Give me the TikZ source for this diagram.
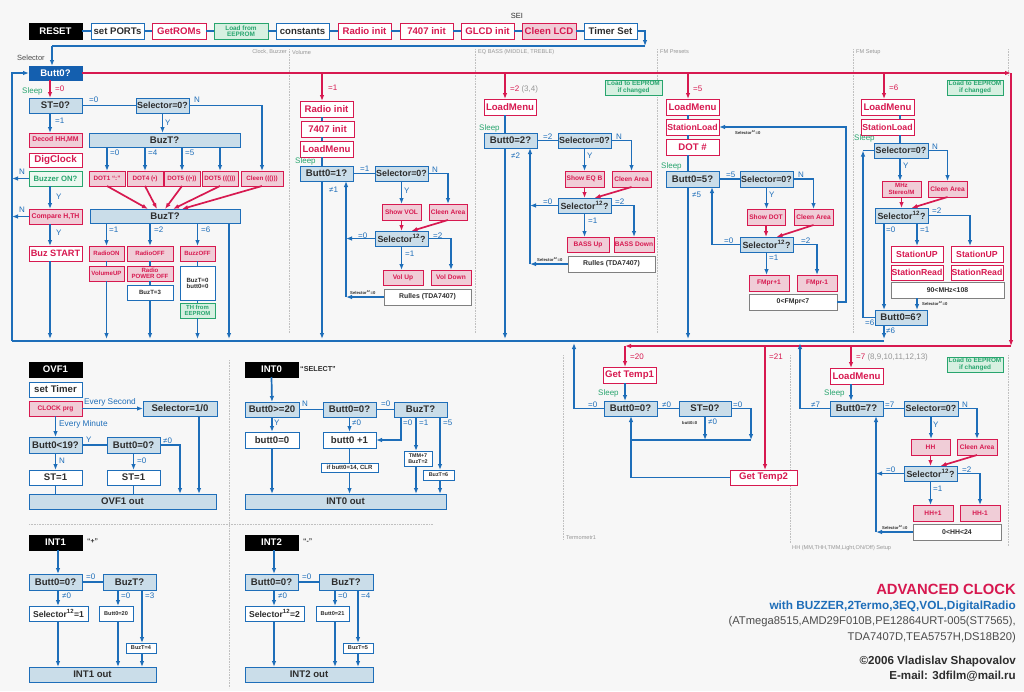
\documentclass[tikz,border=0pt]{standalone}
\usepackage{fontspec}
\setmainfont{Liberation Sans}
\usetikzlibrary{arrows.meta,calc}
\definecolor{cb}{RGB}{30,110,185}
\definecolor{cr}{RGB}{215,25,80}
\definecolor{cpk}{RGB}{240,205,215}
\definecolor{clb}{RGB}{202,221,233}
\definecolor{cg}{RGB}{40,165,110}
\definecolor{cpg}{RGB}{215,240,225}
\definecolor{cdb}{RGB}{20,95,175}
\definecolor{cgy}{RGB}{150,150,150}
\definecolor{cbg}{RGB}{247,247,247}
\definecolor{ctx}{RGB}{45,45,45}
\newcommand\fz[1]{\fontsize{#1}{#1}\selectfont}
\newcounter{lbc}
\newcommand\mybox[7]{\pgfmathsetmacro\bxw{#5-#3}\pgfmathsetmacro\bxh{#6-#4}\node[#2,minimum width=\bxw pt,minimum height=\bxh pt] (#1) at ({(#3+#5)/2},{(#4+#6)/2}) {#7};}
\newcommand\mylab[4]{\stepcounter{lbc}\node[#1,anchor=west] (L\arabic{lbc}) at (#2,#3) {#4};}
\tikzset{
 bb/.style={draw, line width=1pt, inner sep=0pt, outer sep=0pt, align=center, font=\bfseries\fz{9.6}},
 blk/.style={bb, fill=black, draw=black, text=white},
 wbx/.style={bb, fill=white, draw=cb, text=ctx},
 wrx/.style={bb, fill=white, draw=cr, text=cr},
 pkx/.style={bb, fill=cpk, draw=cr, text=cr, font=\bfseries\fz{6.6}},
 lbx/.style={bb, fill=clb, draw=cb, text=ctx},
 grx/.style={bb, fill=cpg, draw=cg, text=cg, font=\bfseries\fz{6.4}},
 dbx/.style={bb, fill=cdb, draw=cdb, text=white},
 wgx/.style={bb, fill=white, draw=gray, text=ctx, font=\bfseries\fz{6.9}},
 sel/.style={font=\bfseries\fz{8.9}},
 stn/.style={font=\bfseries\fz{8.7}},
 smb/.style={font=\bfseries\fz{5.6}},
 bl/.style={draw=cb, line width=1.7pt},
 rd/.style={draw=cr, line width=1.7pt},
 ar/.style={-{Latex[length=6pt,width=4.6pt]}},
 tl/.style={inner sep=0pt, font=\fz{8}, text=cb},
 rl/.style={tl, text=cr},
 sl/.style={tl, text=cg},
 gl/.style={inner sep=0pt, font=\fz{5.6}, text=cgy},
 xl/.style={inner sep=0pt, font=\bfseries\fz{4.2}, text=ctx},
 sepl/.style={draw=cgy!60, line width=0.6pt, densely dotted},
 ttl/.style={inner sep=0pt, anchor=east}
}
\begin{document}
\begin{tikzpicture}[x=1pt,y=-1pt]
\fill[cbg] (0,0) rectangle (1024,691);
\useasboundingbox (0,0) rectangle (1024,691);
% separators
\draw[sepl] (289,49) -- (289,333);
\draw[sepl] (475,49) -- (475,333);
\draw[sepl] (657,49) -- (657,333);
\draw[sepl] (853,49) -- (853,333);
\draw[sepl] (1008,49) -- (1008,75);
\draw[sepl] (229,360) -- (229,688);
\draw[sepl] (29,524) -- (433,524);
\draw[sepl] (563,355) -- (563,540);
\draw[sepl] (790,355) -- (790,543);
\draw[sepl] (1008,355) -- (1008,546);
\node[gl,anchor=east] (g1) at (287,52) {Clock, Buzzer};
\node[gl,anchor=west] (g2) at (292,52) {Volume};
\node[gl,anchor=west] (g3) at (478,52) {EQ BASS (MIDDLE, TREBLE)};
\node[gl,anchor=west] (g4) at (660,52) {FM Presets};
\node[gl,anchor=west] (g5) at (856,52) {FM Setup};
\node[gl,anchor=west] (g6) at (566,538) {Termometr1};
\node[gl,anchor=west] (g7) at (792,548) {HH (MM,THH,TMM,Light,ON/Off) Setup};

% top row
\mybox{rst}{blk}{29}{23}{82}{39}{RESET}
\mybox{spo}{wbx}{91}{23}{144}{39}{set PORTs}
\mybox{grom}{wrx}{152}{23}{206}{39}{GetROMs}
\mybox{lfe}{grx}{214}{23}{268}{39}{Load from\\EEPROM}
\mybox{cst}{wbx}{276}{23}{329}{39}{constants}
\mybox{rin}{wrx}{338}{23}{391}{39}{Radio init}
\mybox{i74}{wrx}{400}{23}{453}{39}{7407 init}
\mybox{glcd}{wrx}{461}{23}{514}{39}{GLCD init}
\mybox{clcd}{pkx,font=\bfseries\fz{9.6}}{522}{23}{576}{39}{Cleen LCD}
\mybox{tms}{wbx}{584}{23}{637}{39}{Timer Set}
\node[inner sep=0pt,font=\fz{7.5},text=ctx] (sei) at (517,16) {SEI};
\foreach \a/\b in {rst/spo,spo/grom,grom/lfe,lfe/cst,cst/rin,rin/i74,i74/glcd,glcd/clcd,clcd/tms}
  \draw[bl] (\a.east) -- (\b.west);
\coordinate (bus0R) at (645,46);
\coordinate (bus0L) at (52,46);
\draw[bl,ar] (tms.east) -| (bus0R);
\draw[bl,line width=2.2pt] (bus0R) -- (bus0L);
\node[inner sep=0pt,font=\fz{7.5},text=ctx!85,anchor=west] (selt) at (17,58) {Selector};

% Clock column
\coordinate (kA) at (50,0);
\coordinate (busL) at (12,341);
\coordinate (busR) at (884,341);
\coordinate (busA) at (0,339);
\coordinate (busB) at (0,343);
\mybox{b0}{dbx}{29}{66}{82}{80}{Butt0?}
\draw[bl,ar] (bus0L) -- (bus0L |- b0.north);
\mybox{st0}{lbx}{29}{98}{82}{113}{ST=0?}
\mybox{sel0}{lbx,sel}{136}{98}{189}{113}{Selector=0?}
\mybox{decod}{pkx,font=\bfseries\fz{6.9}}{29}{133}{82}{147}{Decod HH,MM}
\mybox{digc}{wrx,font=\bfseries\fz{9.8}}{29}{153}{82}{167}{DigClock}
\mybox{bzon}{grx,fill=white!50!cpg,font=\bfseries\fz{7.7}}{29}{171}{82}{186}{Buzzer ON?}
\mybox{cmp}{pkx,font=\bfseries\fz{6.9}}{29}{209}{82}{224}{Compare H,TH}
\mybox{bzst}{wrx,font=\bfseries\fz{9.2}}{29}{246}{82}{261}{Buz START}
\mybox{buzt1}{lbx}{89}{133}{240}{147}{BuzT?}
\mybox{dot1}{pkx,font=\bfseries\fz{6.3}}{89}{171}{125}{186}{DOT1 “:”}
\mybox{dot4}{pkx,font=\bfseries\fz{6.3}}{127}{171}{163}{186}{DOT4 (•)}
\mybox{dot5a}{pkx,font=\bfseries\fz{6.3}}{164}{171}{200}{186}{DOT5 ((•))}
\mybox{dot5b}{pkx,font=\bfseries\fz{6.3}}{202}{171}{238}{186}{DOT5 ((()))}
\mybox{clnb}{pkx,font=\bfseries\fz{6.3}}{241}{171}{283}{186}{Cleen ((()))}
\mybox{buzt2}{lbx}{90}{209}{240}{223}{BuzT?}
\mybox{ron}{pkx,font=\bfseries\fz{6.1}}{89}{246}{124}{261}{RadioON}
\mybox{vup}{pkx,font=\bfseries\fz{6.1}}{89}{266}{124}{281}{VolumeUP}
\mybox{roff}{pkx,font=\bfseries\fz{6.1}}{127}{246}{173}{261}{RadioOFF}
\mybox{rpo}{pkx,font=\bfseries\fz{6.1}}{127}{266}{173}{281}{Radio\\POWER OFF}
\mybox{bz3}{wbx,font=\bfseries\fz{6.1}}{127}{285}{173}{300}{BuzT=3}
\mybox{bzoff}{pkx,font=\bfseries\fz{6.1}}{180}{246}{215}{261}{BuzzOFF}
\mybox{bz0}{wbx,font=\bfseries\fz{6.1}}{180}{266}{215}{300}{BuzT=0\\butt0=0}
\mybox{thee}{grx,font=\bfseries\fz{5.9}}{180}{303}{215}{318}{TH from\\EEPROM}

\coordinate (rTR) at (1011,73);
\coordinate (rBR) at (1011,346);
\coordinate (rBL) at (625,346);
\draw[rd,line width=2.4pt,ar] (b0.east) -- (rTR);
\draw[rd,line width=2.4pt,ar] (rTR) -- (rBR);
\draw[rd,line width=2.4pt,ar] (rBR) -- (rBL);
\draw[bl,line width=2.4pt] (busR) -- (busL);
\draw[bl,line width=2.2pt,ar] (busL) |- (b0.west);

\draw[rd,ar] (b0.south -| kA) -- (st0.north -| kA);
\mylab{sl}{22}{91}{Sleep}
\mylab{rl}{55}{89}{=0}
\draw[bl] (st0.east) -- (sel0.west);
\mylab{tl}{89}{100}{=0}
\coordinate (kN1) at (262,0);
\draw[bl,ar] (sel0.east) -| (clnb.north -| kN1);
\mylab{tl}{194}{100}{N}
\draw[bl,ar] (sel0.south) -- (sel0.south |- buzt1.north);
\mylab{tl}{165}{123}{Y}
\draw[bl,ar] (st0.south -| kA) -- (decod.north -| kA);
\mylab{tl}{55}{121}{=1}
\foreach \d in {dot1,dot4,dot5a,dot5b}
  \draw[bl,ar] (buzt1.south -| \d.north) -- (\d.north);
\mylab{tl}{110}{153}{=0}
\mylab{tl}{148}{153}{=4}
\mylab{tl}{185}{153}{=5}
\draw[rd,ar] (dot1.south) -- ($(buzt2.north)+(-17,0)$);
\draw[rd,ar] (dot4.south) -- ($(buzt2.north)+(-8,0)$);
\draw[rd,ar] (dot5a.south) -- ($(buzt2.north)+(0,0)$);
\draw[rd,ar] (dot5b.south) -- ($(buzt2.north)+(8,0)$);
\draw[rd,ar] (clnb.south) -- ($(buzt2.north)+(17,0)$);
\draw[bl,ar] (bzon.west) -- (bzon.west -| busL);
\mylab{tl}{19}{172}{N}
\draw[bl,ar] (bzon.south -| kA) -- (cmp.north -| kA);
\mylab{tl}{56}{197}{Y}
\draw[bl,ar] (cmp.west) -- (cmp.west -| busL);
\mylab{tl}{19}{210}{N}
\draw[bl,ar] (cmp.south -| kA) -- (bzst.north -| kA);
\mylab{tl}{56}{233}{Y}
\draw[bl,ar] (bzst.south -| kA) -- (busA -| kA);
\draw[bl,ar] (buzt2.south -| ron.north) -- (ron.north);
\mylab{tl}{109}{230}{=1}
\draw[bl] (ron.south) -- (vup.north);
\draw[bl,ar] (vup.south) -- (vup.south |- busA);
\draw[bl,ar] (buzt2.south -| roff.north) -- (roff.north);
\mylab{tl}{154}{230}{=2}
\draw[bl] (roff.south) -- (rpo.north);
\draw[bl] (rpo.south) -- (bz3.north);
\draw[bl,ar] (bz3.south) -- (bz3.south |- busA);
\draw[bl,ar] (buzt2.south -| bzoff.north) -- (bzoff.north);
\mylab{tl}{201}{230}{=6}
\draw[bl] (bzoff.south) -- (bz0.north);
\draw[bl] (bz0.south) -- (thee.north);
\draw[bl,ar] (thee.south) -- (thee.south |- busA);
\coordinate (kE) at (229,0);
\draw[bl,ar] (buzt2.south -| kE) -- (busA -| kE);

% Volume column
\coordinate (kV) at (322,0);
\coordinate (kV2) at (346,0);
\mybox{vri}{wrx}{300}{101}{353}{117}{Radio init}
\mybox{v74}{wrx}{301}{121}{354}{137}{7407 init}
\mybox{vlm}{wrx}{300}{141}{353}{157}{LoadMenu}
\mybox{vb1}{lbx}{300}{166}{353}{181}{Butt0=1?}
\mybox{vs0}{lbx,sel}{375}{166}{428}{181}{Selector=0?}
\mybox{vshow}{pkx}{382}{204}{421}{220}{Show VOL}
\mybox{vcln}{pkx}{429}{204}{467}{220}{Cleen Area}
\mybox{vs12}{lbx,sel}{375}{231}{428}{246}{Selector\textsuperscript{12}?}
\mybox{vvu}{pkx}{383}{270}{423}{285}{Vol Up}
\mybox{vvd}{pkx}{431}{270}{471}{285}{Vol Down}
\mybox{vrul}{wgx}{384}{289}{471}{305}{Rulles (TDA7407)}
\draw[rd,ar] (b0.east -| kV) -- (vri.north -| kV);
\mylab{rl}{328}{88}{=1}
\draw[bl] (vri.south -| kV) -- (v74.north -| kV);
\draw[bl] (v74.south -| kV) -- (vlm.north -| kV);
\draw[bl] (vlm.south -| kV) -- (vb1.north -| kV);
\mylab{sl}{295}{161}{Sleep}
\draw[bl] (vb1.east) -- (vs0.west);
\mylab{tl}{360}{169}{=1}
\draw[bl,ar] (vs0.east) -| (vcln.north);
\mylab{tl}{432}{170}{N}
\draw[bl,ar] (vs0.south) -- (vs0.south |- vshow.north);
\mylab{tl}{404}{191}{Y}
\draw[rd,ar] (vshow.south) -- (vshow.south |- vs12.north);
\draw[rd,ar] (vcln.south) -- ($(vs12.north)+(10,0)$);
\draw[bl,ar] (vs12.west) -- (vs12.west -| kV2);
\mylab{tl}{358}{236}{=0}
\draw[bl,ar] (vrul.west) -- (vrul.west -| kV2);
\mylab{xl}{350}{292}{Selector\textsuperscript{12}=0}
\draw[bl,ar] (vrul.west -| kV2) -- (vb1.south -| kV2);
\mylab{tl}{329}{190}{≠1}
\draw[bl,ar] (vb1.south -| kV) -- (busA -| kV);
\draw[bl,ar] (vs12.south) -- (vs12.south |- vvu.north);
\mylab{tl}{405}{254}{=1}
\draw[bl,ar] (vs12.east) -| (vvd.north);
\mylab{tl}{433}{236}{=2}

% EQ column
\coordinate (kQ) at (505,0);
\coordinate (kQ2) at (530,0);
\mybox{elm}{wrx}{484}{99}{536}{115}{LoadMenu}
\mybox{eb2}{lbx}{484}{133}{537}{148}{Butt0=2?}
\mybox{es0}{lbx,sel}{558}{133}{611}{148}{Selector=0?}
\mybox{esh}{pkx}{565}{171}{604}{187}{Show EQ B}
\mybox{ecl}{pkx}{612}{171}{651}{187}{Cleen Area}
\mybox{es12}{lbx,sel}{558}{198}{611}{213}{Selector\textsuperscript{12}?}
\mybox{eup}{pkx}{567}{237}{609}{252}{BASS Up}
\mybox{edn}{pkx}{614}{237}{654}{252}{BASS Down}
\mybox{erul}{wgx}{568}{256}{655}{272}{Rulles (TDA7407)}
\mybox{eld}{grx}{605}{80}{662}{95}{Load to EEPROM\\if changed}
\draw[rd,ar] (b0.east -| kQ) -- (elm.north -| kQ);
\mylab{rl}{510}{89}{=2 {\color{cgy}(3,4)}}
\draw[bl] (elm.south -| kQ) -- (eb2.north -| kQ);
\mylab{sl}{479}{128}{Sleep}
\draw[bl] (eb2.east) -- (es0.west);
\mylab{tl}{543}{137}{=2}
\draw[bl,ar] (es0.east) -| (ecl.north);
\mylab{tl}{616}{137}{N}
\draw[bl,ar] (es0.south) -- (es0.south |- esh.north);
\mylab{tl}{587}{156}{Y}
\draw[rd,ar] (esh.south) -- (esh.south |- es12.north);
\draw[rd,ar] (ecl.south) -- ($(es12.north)+(10,0)$);
\draw[bl,ar] (es12.west) -- (es12.west -| kQ2);
\mylab{tl}{543}{202}{=0}
\draw[bl,ar] (erul.west) -- (erul.west -| kQ2);
\mylab{xl}{537}{259}{Selector\textsuperscript{12}=0}
\draw[bl,ar] (erul.west -| kQ2) -- (eb2.south -| kQ2);
\mylab{tl}{511}{156}{≠2}
\draw[bl,ar] (eb2.south -| kQ) -- (busA -| kQ);
\draw[bl,ar] (es12.south) -- (es12.south |- eup.north);
\mylab{tl}{588}{221}{=1}
\draw[bl,ar] (es12.east) -| (edn.north);
\mylab{tl}{615}{202}{=2}

% FM presets
\coordinate (kF) at (688,0);
\coordinate (kF2) at (712,0);
\coordinate (kF3) at (846,0);
\mybox{flm}{wrx}{666}{99}{719}{115}{LoadMenu}
\mybox{fsl}{wrx,stn}{666}{119}{719}{135}{StationLoad}
\mybox{fdot}{wrx}{666}{139}{719}{155}{DOT \#}
\mybox{fb5}{lbx}{666}{171}{719}{187}{Butt0=5?}
\mybox{fs0}{lbx,sel}{740}{171}{793}{187}{Selector=0?}
\mybox{fsh}{pkx}{747}{209}{785}{225}{Show DOT}
\mybox{fcl}{pkx}{794}{209}{833}{225}{Cleen Area}
\mybox{fs12}{lbx,sel}{740}{237}{793}{252}{Selector\textsuperscript{12}?}
\mybox{fp1}{pkx}{749}{275}{789}{291}{FMpr+1}
\mybox{fm1}{pkx}{797}{275}{837}{291}{FMpr-1}
\mybox{frng}{wgx}{749}{294}{837}{310}{0<FMpr<7}
\draw[rd,ar] (b0.east -| kF) -- (flm.north -| kF);
\mylab{rl}{693}{89}{=5}
\draw[bl] (flm.south -| kF) -- (fsl.north -| kF);
\draw[bl] (fsl.south -| kF) -- (fdot.north -| kF);
\draw[bl] (fdot.south -| kF) -- (fb5.north -| kF);
\mylab{sl}{661}{166}{Sleep}
\draw[bl] (fb5.east) -- (fs0.west);
\mylab{tl}{726}{175}{=5}
\draw[bl,ar] (fs0.east) -| (fcl.north);
\mylab{tl}{798}{175}{N}
\draw[bl,ar] (fs0.south) -- (fs0.south |- fsh.north);
\mylab{tl}{769}{195}{Y}
\draw[rd,ar] (fsh.south) -- (fsh.south |- fs12.north);
\draw[rd,ar] (fcl.south) -- ($(fs12.north)+(10,0)$);
\draw[bl,ar] (fs12.west) -| (fb5.south -| kF2);
\mylab{tl}{724}{241}{=0}
\mylab{tl}{692}{195}{≠5}
\draw[bl,ar] (fb5.south -| kF) -- (busA -| kF);
\draw[bl,ar] (fs12.south) -- (fs12.south |- fp1.north);
\mylab{tl}{769}{258}{=1}
\draw[bl,ar] (fs12.east) -| (fm1.north);
\mylab{tl}{801}{241}{=2}
\draw[bl,ar] (frng.east) -| (fsl.east -| kF3) -- (fsl.east);
\mylab{xl}{735}{132}{Selector\textsuperscript{12}=0}

% FM setup
\coordinate (kS) at (884,0);
\coordinate (kS1) at (900,0);
\coordinate (kS2) at (917,0);
\coordinate (kS3) at (970,0);
\coordinate (kS4) at (863,0);
\mybox{slm}{wrx}{861}{99}{914}{115}{LoadMenu}
\mybox{ssl}{wrx,stn}{861}{119}{914}{135}{StationLoad}
\mybox{ss0}{lbx,sel}{874}{143}{928}{158}{Selector=0?}
\mybox{smz}{pkx,font=\bfseries\fz{6.1}}{882}{181}{921}{197}{MHz\\Stereo/M}
\mybox{scl}{pkx}{928}{181}{967}{197}{Cleen Area}
\mybox{ss12}{lbx,sel}{875}{208}{928}{223}{Selector\textsuperscript{12}?}
\mybox{su1}{wrx,stn}{891}{246}{943}{262}{StationUP}
\mybox{sr1}{wrx,stn}{891}{265}{943}{280}{StationRead}
\mybox{su2}{wrx,stn}{951}{246}{1003}{262}{StationUP}
\mybox{sr2}{wrx,stn}{951}{265}{1003}{280}{StationRead}
\mybox{srng}{wgx}{891}{282}{1004}{298}{90<MHz<108}
\mybox{sb6}{lbx}{875}{310}{927}{325}{Butt0=6?}
\mybox{sld}{grx}{947}{80}{1003}{95}{Load to EEPROM\\if changed}
\draw[rd,ar] (b0.east -| kS) -- (slm.north -| kS);
\mylab{rl}{889}{88}{=6}
\draw[bl] (slm.south -| kS1) -- (ssl.north -| kS1);
\draw[bl] (ssl.south -| kS1) -- (ss0.north -| kS1);
\mylab{sl}{854}{138}{Sleep}
\draw[bl,ar] (ss0.east) -| (scl.north);
\mylab{tl}{932}{147}{N}
\draw[bl,ar] (ss0.south -| kS1) -- (smz.north -| kS1);
\mylab{tl}{903}{166}{Y}
\draw[rd,ar] (smz.south) -- (smz.south |- ss12.north);
\draw[rd,ar] (scl.south) -- ($(ss12.north)+(10,0)$);
\draw[bl,ar] (ss12.south -| kS) -- (sb6.north -| kS);
\mylab{tl}{886}{230}{=0}
\draw[bl,ar] (ss12.south -| kS2) -- (su1.north -| kS2);
\mylab{tl}{920}{230}{=1}
\draw[bl,ar] (ss12.east) -| (su2.north -| kS3);
\mylab{tl}{932}{211}{=2}
\draw[bl,ar] (srng.south -| kS2) -- (sb6.north -| kS2);
\mylab{xl}{922}{303}{Selector\textsuperscript{12}=0}
\draw[bl,ar] (sb6.west) -| (ss0.west -| kS4);
\draw[bl] (ss0.west -| kS4) -- (ss0.west);
\mylab{tl}{865}{323}{=6}
\mylab{tl}{886}{331}{≠6}
\draw[bl,ar] (sb6.south -| kS) -- (busA -| kS);

% Temperature
\coordinate (kT0) at (574,0);
\coordinate (kT1) at (625,0);
\coordinate (kT2) at (631,0);
\coordinate (kT3) at (705,0);
\coordinate (kT4) at (751,0);
\coordinate (kT5) at (765,0);
\coordinate (yT) at (0,440);
\mybox{gt1}{wrx}{603}{367}{656}{383}{Get Temp1}
\mybox{tb0}{lbx}{604}{401}{657}{416}{Butt0=0?}
\mybox{tst}{lbx}{679}{401}{731}{416}{ST=0?}
\mybox{gt2}{wrx}{730}{470}{797}{485}{Get Temp2}
\draw[rd,ar] (rBL) -- (gt1.north -| kT1);
\mylab{rl}{630}{357}{=20}
\draw[bl,ar] (gt1.south -| kT1) -- (tb0.north -| kT1);
\mylab{sl}{598}{393}{Sleep}
\draw[bl,ar] (tb0.west) -| (busB -| kT0);
\mylab{tl}{588}{405}{=0}
\draw[bl] (tb0.east) -- (tst.west);
\mylab{tl}{662}{405}{≠0}
\draw[bl,ar] (tst.east) -| (yT -| kT4);
\mylab{tl}{733}{405}{=0}
\draw[bl,ar] (tst.south -| kT3) -- (yT -| kT3);
\mylab{tl}{708}{422}{≠0}
\mylab{xl}{682}{423}{butt0=0}
\draw[bl] (yT -| kT2) -- (yT -| kT4);
\draw[bl,ar] (gt2.west) -| (tb0.south -| kT2);
\draw[rd,ar] (rBR -| kT5) -- (gt2.north -| kT5);
\mylab{rl}{769}{357}{=21}

% HH setup
\coordinate (kH) at (851,0);
\coordinate (kH0) at (800,0);
\coordinate (kH2) at (876,0);
\mybox{hlm}{wrx}{830}{368}{883}{384}{LoadMenu}
\mybox{hb7}{lbx}{830}{401}{883}{416}{Butt0=7?}
\mybox{hs0}{lbx,sel}{904}{401}{958}{416}{Selector=0?}
\mybox{hhh}{pkx}{911}{439}{950}{455}{HH}
\mybox{hcl}{pkx}{957}{439}{997}{455}{Cleen Area}
\mybox{hs12}{lbx,sel}{904}{466}{957}{481}{Selector\textsuperscript{12}?}
\mybox{hp1}{pkx}{913}{505}{953}{521}{HH+1}
\mybox{hm1}{pkx}{960}{505}{1000}{521}{HH-1}
\mybox{hrng}{wgx}{913}{524}{1001}{540}{0<HH<24}
\mybox{hld}{grx}{947}{357}{1003}{372}{Load to EEPROM\\if changed}
\draw[rd,ar] (rBR -| kH) -- (hlm.north -| kH);
\mylab{rl}{856}{357}{=7 {\color{cgy}(8,9,10,11,12,13)}}
\draw[bl,ar] (hlm.south -| kH) -- (hb7.north -| kH);
\mylab{sl}{824}{393}{Sleep}
\draw[bl,ar] (hb7.west) -| (busB -| kH0);
\mylab{tl}{811}{405}{≠7}
\draw[bl] (hb7.east) -- (hs0.west);
\mylab{tl}{885}{405}{=7}
\draw[bl,ar] (hs0.east) -| (hcl.north);
\mylab{tl}{962}{405}{N}
\draw[bl,ar] (hs0.south) -- (hs0.south |- hhh.north);
\mylab{tl}{933}{425}{Y}
\draw[rd,ar] (hhh.south) -- (hhh.south |- hs12.north);
\draw[rd,ar] (hcl.south) -- ($(hs12.north)+(10,0)$);
\draw[bl,ar] (hs12.west) -- (hs12.west -| kH2);
\mylab{tl}{886}{470}{=0}
\draw[bl,ar] (hrng.west) -- (hrng.west -| kH2);
\mylab{xl}{882}{527}{Selector\textsuperscript{12}=0}
\draw[bl,ar] (hrng.west -| kH2) -- (hb7.south -| kH2);
\draw[bl,ar] (hs12.south) -- (hs12.south |- hp1.north);
\mylab{tl}{933}{489}{=1}
\draw[bl,ar] (hs12.east) -| (hm1.north);
\mylab{tl}{962}{470}{=2}

% OVF1
\coordinate (kO1) at (180,0);
\coordinate (kO2) at (199,0);
\mybox{ovf}{blk}{29}{362}{82}{377}{OVF1}
\mybox{stim}{wbx}{29}{382}{82}{397}{set Timer}
\mybox{clk}{pkx}{29}{401}{82}{416}{CLOCK prg}
\mybox{s10}{lbx}{143}{401}{217}{416}{Selector=1/0}
\mybox{b19}{lbx}{29}{437}{82}{453}{Butt0<19?}
\mybox{ob0}{lbx}{107}{437}{160}{453}{Butt0=0?}
\mybox{st1a}{wbx}{29}{470}{82}{485}{ST=1}
\mybox{st1b}{wbx}{107}{470}{160}{485}{ST=1}
\mybox{oout}{lbx}{29}{494}{216}{509}{OVF1 out}
\draw[bl,ar] (clk.east) -- (s10.west);
\mylab{tl,font=\fz{8.3}}{84}{402}{Every Second}
\draw[bl,ar] (clk.south) -- (b19.north);
\mylab{tl,font=\fz{8.3}}{59}{424}{Every Minute}
\draw[bl] (b19.east) -- (ob0.west);
\mylab{tl}{86}{440}{Y}
\draw[bl,ar] (ob0.east) -| (oout.north -| kO1);
\mylab{tl}{163}{441}{≠0}
\draw[bl,ar] (s10.south -| kO2) -- (oout.north -| kO2);
\draw[bl,ar] (b19.south) -- (st1a.north);
\mylab{tl}{59}{461}{N}
\draw[bl,ar] (ob0.south) -- (st1b.north);
\mylab{tl}{137}{461}{=0}
\draw[bl] (st1a.south) -- (st1a.south |- oout.north);
\draw[bl] (st1b.south) -- (st1b.south |- oout.north);

% INT0
\coordinate (kI1) at (401,0);
\coordinate (kI2) at (416,0);
\coordinate (kI3) at (440,0);
\mybox{i0}{blk}{245}{362}{298}{377}{INT0}
\mylab{inner sep=0pt,font=\bfseries\fz{7.2},text=ctx}{300}{369}{“SELECT”}
\mybox{i0b20}{lbx}{245}{402}{299}{417}{Butt0>=20}
\mybox{i0b0}{lbx}{323}{402}{376}{417}{Butt0=0?}
\mybox{i0bz}{lbx}{394}{402}{447}{417}{BuzT?}
\mybox{i0z}{wbx}{245}{432}{299}{448}{butt0=0}
\mybox{i0p}{wbx}{323}{432}{376}{448}{butt0 +1}
\mybox{i0clr}{wbx,font=\bfseries\fz{6}}{321}{463}{378}{472}{if butt0=14, CLR}
\mybox{i0tm}{wbx,font=\bfseries\fz{5.4}}{404}{451}{432}{466}{TMM+7\\BuzT=2}
\mybox{i0b6}{wbx,font=\bfseries\fz{5.4}}{423}{470}{454}{480}{BuzT=6}
\mybox{i0out}{lbx}{245}{494}{446}{509}{INT0 out}
\draw[bl,ar] (i0.south) -- (i0b20.north);
\draw[bl] (i0b20.east) -- (i0b0.west);
\mylab{tl}{302}{404}{N}
\draw[bl] (i0b0.east) -- (i0bz.west);
\mylab{tl}{381}{404}{=0}
\draw[bl,ar] (i0b20.south) -- (i0z.north);
\mylab{tl}{274}{423}{Y}
\draw[bl,ar] (i0b0.south) -- (i0p.north);
\mylab{tl}{352}{423}{≠0}
\draw[bl,ar] (i0bz.south -| kI1) |- (i0p.east);
\mylab{tl}{403}{423}{=0}
\draw[bl,ar] (i0bz.south -| kI2) -- (i0tm.north -| kI2);
\mylab{tl}{419}{423}{=1}
\draw[bl,ar] (i0bz.south -| kI3) -- (i0b6.north -| kI3);
\mylab{tl}{443}{423}{=5}
\draw[bl,ar] (i0tm.south -| kI2) -- (i0out.north -| kI2);
\draw[bl,ar] (i0b6.south -| kI3) -- (i0out.north -| kI3);
\draw[bl,ar] (i0z.south) -- (i0z.south |- i0out.north);
\draw[bl] (i0p.south) -- (i0clr.north);
\draw[bl,ar] (i0clr.south) -- (i0clr.south |- i0out.north);

% INT1
\coordinate (kJ0) at (58,0);
\coordinate (kJ1) at (118,0);
\coordinate (kJ2) at (142,0);
\mybox{i1}{blk}{29}{535}{82}{550}{INT1}
\mylab{inner sep=0pt,font=\bfseries\fz{6.8},text=ctx}{87}{541}{“+”}
\mybox{i1b0}{lbx}{29}{574}{82}{590}{Butt0=0?}
\mybox{i1bz}{lbx}{103}{574}{156}{590}{BuzT?}
\mybox{i1sel}{wbx,font=\bfseries\fz{8.6}}{29}{606}{88}{621}{Selector\textsuperscript{12}=1}
\mybox{i1b20}{wbx,smb}{99}{606}{133}{621}{Butt0=20}
\mybox{i1b4}{wbx,smb}{126}{643}{156}{653}{BuzT=4}
\mybox{i1out}{lbx}{29}{667}{156}{682}{INT1 out}
\draw[bl,ar] (i1.south -| kJ0) -- (i1b0.north -| kJ0);
\draw[bl] (i1b0.east) -- (i1bz.west);
\mylab{tl}{86}{577}{=0}
\draw[bl,ar] (i1b0.south -| kJ0) -- (i1sel.north -| kJ0);
\mylab{tl}{62}{596}{≠0}
\draw[bl,ar] (i1bz.south -| kJ1) -- (i1b20.north -| kJ1);
\mylab{tl}{121}{596}{=0}
\draw[bl,ar] (i1bz.south -| kJ2) -- (i1b4.north -| kJ2);
\mylab{tl}{145}{596}{=3}
\draw[bl,ar] (i1sel.south -| kJ0) -- (i1out.north -| kJ0);
\draw[bl,ar] (i1b20.south -| kJ1) -- (i1out.north -| kJ1);
\draw[bl,ar] (i1b4.south -| kJ2) -- (i1out.north -| kJ2);

% INT2
\coordinate (kK0) at (274,0);
\coordinate (kK1) at (335,0);
\coordinate (kK2) at (358,0);
\mybox{i2}{blk}{245}{535}{298}{550}{INT2}
\mylab{inner sep=0pt,font=\bfseries\fz{6.8},text=ctx}{303}{541}{“-”}
\mybox{i2b0}{lbx}{245}{574}{298}{590}{Butt0=0?}
\mybox{i2bz}{lbx}{319}{574}{373}{590}{BuzT?}
\mybox{i2sel}{wbx,font=\bfseries\fz{8.6}}{245}{606}{304}{621}{Selector\textsuperscript{12}=2}
\mybox{i2b21}{wbx,smb}{316}{606}{349}{621}{Butt0=21}
\mybox{i2b5}{wbx,smb}{343}{643}{373}{653}{BuzT=5}
\mybox{i2out}{lbx}{245}{667}{373}{682}{INT2 out}
\draw[bl,ar] (i2.south -| kK0) -- (i2b0.north -| kK0);
\draw[bl] (i2b0.east) -- (i2bz.west);
\mylab{tl}{302}{577}{=0}
\draw[bl,ar] (i2b0.south -| kK0) -- (i2sel.north -| kK0);
\mylab{tl}{278}{596}{≠0}
\draw[bl,ar] (i2bz.south -| kK1) -- (i2b21.north -| kK1);
\mylab{tl}{338}{596}{=0}
\draw[bl,ar] (i2bz.south -| kK2) -- (i2b5.north -| kK2);
\mylab{tl}{361}{596}{=4}
\draw[bl,ar] (i2sel.south -| kK0) -- (i2out.north -| kK0);
\draw[bl,ar] (i2b21.south -| kK1) -- (i2out.north -| kK1);
\draw[bl,ar] (i2b5.south -| kK2) -- (i2out.north -| kK2);

% Title
\node[ttl,font=\bfseries\fz{14.8},text=cr] (t1) at (1016,589) {ADVANCED CLOCK};
\node[ttl,font=\bfseries\fz{11.8},text=cb] (t2) at (1016,606) {with BUZZER,2Termo,3EQ,VOL,DigitalRadio};
\node[ttl,font=\fz{11.2},text=ctx!85] (t3) at (1016,622) {(ATmega8515,AMD29F010B,PE12864URT-005(ST7565),};
\node[ttl,font=\fz{11.2},text=ctx!85] (t4) at (1016,638) {TDA7407D,TEA5757H,DS18B20)};
\node[ttl,font=\bfseries\fz{11.6},text=ctx] (t5) at (1016,661) {©2006 Vladislav Shapovalov};
\node[ttl,font=\bfseries\fz{11.6},text=ctx] (t6) at (1016,676) {E-mail: 3dfilm@mail.ru};
\end{tikzpicture}
\end{document}
